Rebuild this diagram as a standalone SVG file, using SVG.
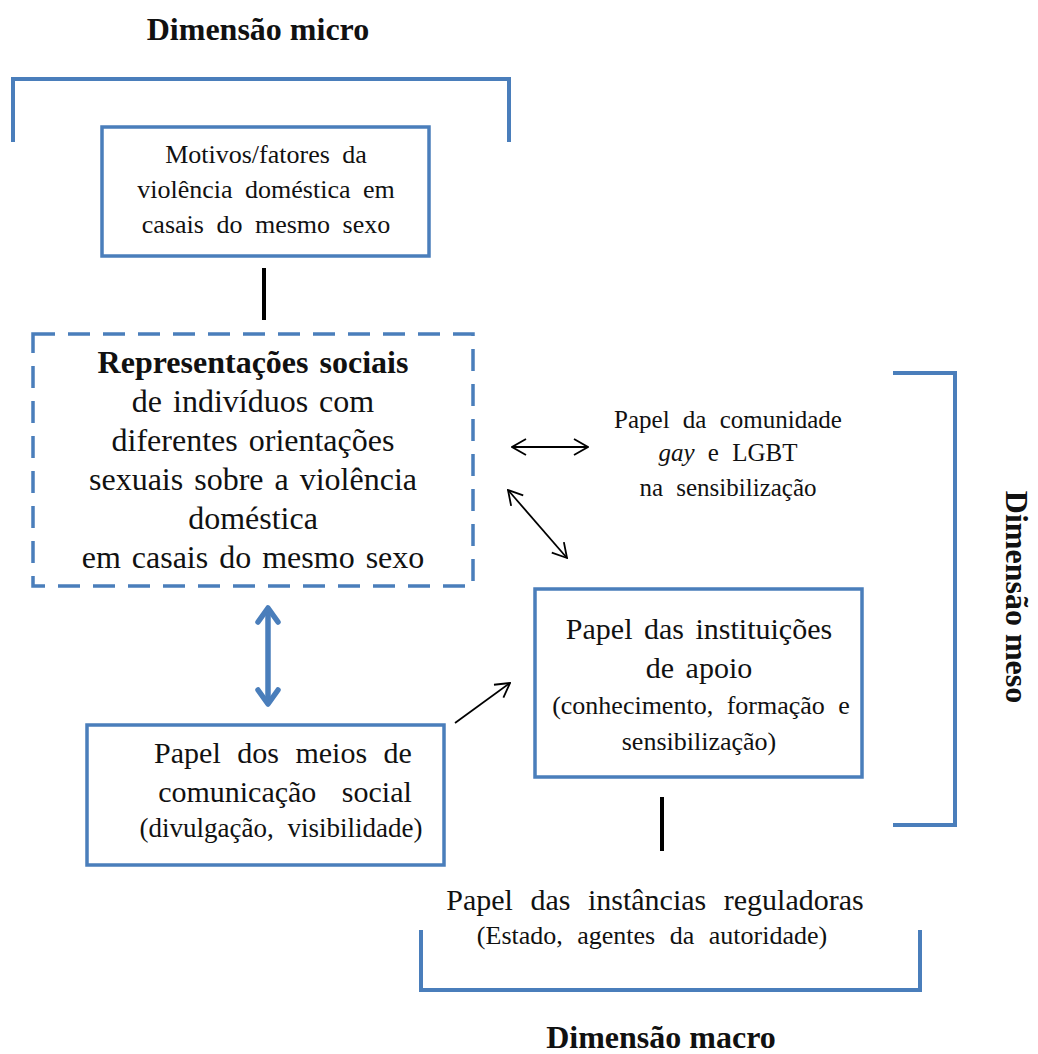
<svg xmlns="http://www.w3.org/2000/svg" width="1038" height="1054" viewBox="0 0 1038 1054">
<style>
  text { font-family: "Liberation Serif", "Times New Roman", serif; fill: #111; text-anchor: middle; }
  .title { font-weight: bold; font-size: 32px; }
  .rep { font-size: 32px; word-spacing: 3px; }
  .mot { font-size: 26px; word-spacing: 6px; }
  .com { font-size: 25px; word-spacing: 7px; }
  .big { font-size: 30px; word-spacing: 4px; }
  .mid { font-size: 26px; word-spacing: 4px; }
  .box { fill: #fff; stroke: #4a7ebb; stroke-width: 3.5; }
  .dash { fill: none; stroke: #4a7ebb; stroke-width: 3.5; stroke-dasharray: 22 13; }
  .brk { fill: none; stroke: #4a7ebb; stroke-width: 4; }
  .bar { stroke: #000; stroke-width: 4; }
  .thin { stroke: #000; stroke-width: 1.8; fill: none; }
  .blue { stroke: #4a7ebb; stroke-width: 5.5; fill: none; }
</style>
<defs>
  <marker id="ah" viewBox="0 0 16 18" refX="15" refY="9" markerWidth="16" markerHeight="18" markerUnits="userSpaceOnUse" orient="auto-start-reverse">
    <path d="M1,1 L15,9 L1,17" fill="none" stroke="#000" stroke-width="1.8"/>
  </marker>
  <marker id="bh" viewBox="0 0 20 26" refX="17" refY="13" markerWidth="20" markerHeight="26" markerUnits="userSpaceOnUse" orient="auto-start-reverse">
    <path d="M3,3 L17,13 L3,23" fill="none" stroke="#4a7ebb" stroke-width="5.5" stroke-linecap="round" stroke-linejoin="round"/>
  </marker>
</defs>
<rect width="1038" height="1054" fill="#fff"/>

<g id="dim-micro">
  <text class="title" x="258" y="40">Dimensão micro</text>
  <path class="brk" d="M13,142 V79 H509 V142"/>
</g>

<g id="dim-meso">
  <path class="brk" d="M893,373 H955 V825 H893"/>
  <text class="title" transform="translate(1006,597) rotate(90)">Dimensão meso</text>
</g>

<g id="dim-macro">
  <path class="brk" d="M421,930 V990 H920 V930"/>
  <text class="title" x="661" y="1048">Dimensão macro</text>
</g>

<g id="motivos">
  <rect class="box" x="102" y="127" width="327" height="129"/>
  <text class="mot" x="266" y="163">Motivos/fatores da</text>
  <text class="mot" x="266" y="198">violência doméstica em</text>
  <text class="mot" x="266" y="233">casais do mesmo sexo</text>
</g>

<g id="representacoes">
  <rect class="dash" x="33" y="334" width="440" height="252"/>
  <text class="rep" x="253" y="373" font-weight="bold">Representações sociais</text>
  <text class="rep" x="253" y="412">de indivíduos com</text>
  <text class="rep" x="253" y="451">diferentes orientações</text>
  <text class="rep" x="253" y="490">sexuais sobre a violência</text>
  <text class="rep" x="253" y="529">doméstica</text>
  <text class="rep" x="253" y="568">em casais do mesmo sexo</text>
</g>

<g id="comunidade">
  <text class="com" x="728" y="428">Papel da comunidade</text>
  <text class="com" x="728" y="461"><tspan font-style="italic">gay</tspan> e LGBT</text>
  <text class="com" x="728" y="496">na  sensibilização</text>
</g>

<g id="instituicoes">
  <rect class="box" x="535" y="589" width="327" height="188"/>
  <text class="big" x="699" y="639">Papel das instituições</text>
  <text class="big" x="699" y="678">de apoio</text>
  <text class="mid" x="701" y="714" style="word-spacing:7px">(conhecimento, formação e</text>
  <text class="mid" x="699" y="750">sensibilização)</text>
</g>

<g id="meios">
  <rect class="box" x="87" y="725" width="357" height="140"/>
  <text class="big" x="283" y="763" style="word-spacing:9px">Papel dos meios de</text>
  <text class="big" x="285" y="802" style="word-spacing:18px">comunicação social</text>
  <text class="mid" x="281" y="837" style="font-size:27px;word-spacing:7px">(divulgação, visibilidade)</text>
</g>

<g id="instancias">
  <text class="big" x="655" y="910" style="word-spacing:10px">Papel das instâncias reguladoras</text>
  <text class="mid" x="652" y="944" style="word-spacing:8px">(Estado, agentes da autoridade)</text>
</g>

<g id="connectors">
  <line class="bar" x1="264" y1="268" x2="264" y2="320"/>
  <line class="bar" x1="662" y1="797" x2="662" y2="851"/>
  <line class="thin" x1="512" y1="447" x2="588" y2="447" marker-start="url(#ah)" marker-end="url(#ah)"/>
  <line class="thin" x1="508" y1="490" x2="567" y2="558" marker-start="url(#ah)" marker-end="url(#ah)"/>
  <line class="thin" x1="455" y1="723" x2="510" y2="683" marker-end="url(#ah)"/>
  <line class="blue" x1="268" y1="608" x2="268" y2="704" marker-start="url(#bh)" marker-end="url(#bh)"/>
</g>
</svg>
